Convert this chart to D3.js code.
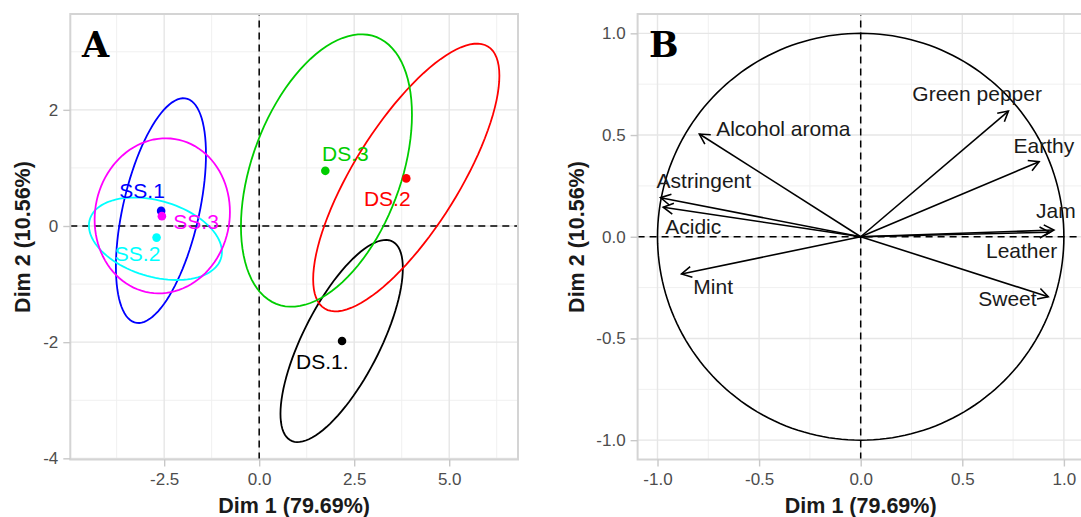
<!DOCTYPE html>
<html>
<head>
<meta charset="utf-8">
<script src="https://cdn.jsdelivr.net/npm/d3@7"></script>
<style>
  body { margin: 0; background: #fff; }
  svg { display: block; font-family: "Liberation Sans", Arial, sans-serif; }
</style>
</head>
<body>
<div id="main-div"></div>
<script>
// panel A: individuals (group means + confidence ellipses)
const groups = ["DS.1.", "DS.2", "DS.3", "SS.1", "SS.2", "SS.3"];
const groupColors = ["black", "red", "#00CD00", "blue", "cyan", "magenta"];
const meanDim1 = [2.18, 3.87, 1.74, -2.58, -2.70, -2.56];
const meanDim2 = [-1.98, 0.82, 0.95, 0.26, -0.20, 0.17];
const labelDim1 = [1.66, 3.37, 2.27, -3.08, -3.20, -1.66];
const labelDim2 = [-2.34, 0.48, 1.25, 0.62, -0.48, 0.07];
// ellipse: centre, half extent along dim1 / dim2, correlation
const ellCx = [2.17, 3.87, 1.77, -2.585, -2.73, -2.55];
const ellCy = [-1.98, 0.835, 0.955, 0.265, -0.22, 0.175];
const ellSx = [1.61, 2.45, 2.25, 1.185, 1.75, 1.78];
const ellSy = [1.74, 2.305, 2.345, 1.935, 0.71, 1.335];
const ellRho = [0.72, 0.76, 0.41, 0.5, -0.32, 0.05];

// panel B: variables (correlation circle)
const variables = ["Green pepper", "Alcohol aroma", "Earthy", "Astringent", "Jam", "Acidic", "Leather", "Mint", "Sweet"];
const varDim1 = [0.727, -0.794, 0.878, -0.985, 0.951, -0.972, 0.93, -0.882, 0.923];
const varDim2 = [0.618, 0.505, 0.369, 0.192, 0.033, 0.145, 0.022, -0.183, -0.295];
const varLabelDim1 = [0.573, -0.381, 0.902, -0.772, 0.961, -0.824, 0.792, -0.726, 0.722];
const varLabelDim2 = [0.705, 0.530, 0.451, 0.279, 0.129, 0.049, -0.065, -0.246, -0.303];

const ticksA_x = [-2.5, 0, 2.5, 5.0];
const ticksA_y = [-4, -2, 0, 2];
const minorA_x = [-3.75, -1.25, 1.25, 3.75, 6.25];
const minorA_y = [-3, -1, 1, 3];
const ticksB = [-1, -0.5, 0, 0.5, 1];
const minorB = [-0.75, -0.25, 0.25, 0.75];

const xTitle = "Dim 1 (79.69%)";
const yTitle = "Dim 2 (10.56%)";

let width = 1081, height = 517;

const svg = d3.select("#main-div").append("svg")
  .attr("width", width).attr("height", height);

svg.append("defs").append("marker")
  .attr("id", "arrow")
  .attr("markerUnits", "userSpaceOnUse")
  .attr("viewBox", "-12 -7 14 14")
  .attr("markerWidth", 14).attr("markerHeight", 14)
  .attr("orient", "auto")
  .append("path")
  .attr("d", "M-10,-5.5 L0,0 L-10,5.5")
  .attr("fill", "none").attr("stroke", "black").attr("stroke-width", 1.6);

// ascii hyphen like R output
const oneDec = d => d.toFixed(1);
const whole = d => String(d);

function panel(id, x, y, xt, yt, xminor, yminor, fx, fy) {
  const [x0, x1] = x.range(), [y0, y1] = y.range();
  const g = svg.append("g");
  g.append("clipPath").attr("id", id).append("rect")
    .attr("x", x0).attr("y", y1).attr("width", x1 - x0).attr("height", y0 - y1);
  const body = g.append("g").attr("clip-path", `url(#${id})`);
  // grid
  body.selectAll(".mx").data(xminor).join("line")
    .attr("x1", d => x(d)).attr("x2", d => x(d)).attr("y1", y0).attr("y2", y1)
    .attr("stroke", "#f0f0f0").attr("stroke-width", 1);
  body.selectAll(".my").data(yminor).join("line")
    .attr("y1", d => y(d)).attr("y2", d => y(d)).attr("x1", x0).attr("x2", x1)
    .attr("stroke", "#f0f0f0").attr("stroke-width", 1);
  body.selectAll(".Mx").data(xt).join("line")
    .attr("x1", d => x(d)).attr("x2", d => x(d)).attr("y1", y0).attr("y2", y1)
    .attr("stroke", "#e6e6e6").attr("stroke-width", 1.4);
  body.selectAll(".My").data(yt).join("line")
    .attr("y1", d => y(d)).attr("y2", d => y(d)).attr("x1", x0).attr("x2", x1)
    .attr("stroke", "#e6e6e6").attr("stroke-width", 1.4);
  // border
  g.append("rect").attr("x", x0).attr("y", y1).attr("width", x1 - x0).attr("height", y0 - y1)
    .attr("fill", "none").attr("stroke", "#d4d4d4").attr("stroke-width", 2);
  // axes
  const ax = g.append("g").attr("transform", `translate(0,${y0})`)
    .call(d3.axisBottom(x).tickValues(xt).tickFormat(fx).tickSize(7).tickPadding(6));
  const ay = g.append("g").attr("transform", `translate(${x0},0)`)
    .call(d3.axisLeft(y).tickValues(yt).tickFormat(fy).tickSize(7).tickPadding(5));
  [ax, ay].forEach(a => {
    a.select(".domain").remove();
    a.selectAll(".tick line").attr("stroke", "#c8c8c8").attr("stroke-width", 1.4);
    a.selectAll(".tick text").attr("fill", "#4d4d4d").attr("font-size", 17)
      .attr("font-family", "Liberation Sans, Arial, sans-serif");
  });
  // zero lines
  body.append("line").attr("x1", x(0)).attr("x2", x(0)).attr("y1", y0).attr("y2", y1)
    .attr("stroke", "black").attr("stroke-width", 1.5).attr("stroke-dasharray", "7,5");
  body.append("line").attr("y1", y(0)).attr("y2", y(0)).attr("x1", x0).attr("x2", x1)
    .attr("stroke", "black").attr("stroke-width", 1.5).attr("stroke-dasharray", "7,5");
  // x title
  g.append("text").attr("x", (x0 + Math.min(x1, width + 3)) / 2).attr("y", 513)
    .attr("text-anchor", "middle").attr("font-weight", "bold").attr("font-size", 21.5)
    .attr("fill", "#1a1a1a").text(xTitle);
  return body;
}

// ---------- panel A ----------
const xA = d3.scaleLinear().domain([-4.97, 6.81]).range([70.3, 518]);
const yA = d3.scaleLinear().domain([-4.02, 3.65]).range([459.5, 14]);
const bodyA = panel("clipA", xA, yA, ticksA_x, ticksA_y, minorA_x, minorA_y, oneDec, whole);

const ellipse = i => d3.range(0, 101).map(k => {
  const t = 2 * Math.PI * k / 100;
  const dx = ellSx[i] * Math.cos(t);
  const dy = ellSy[i] * (ellRho[i] * Math.cos(t) + Math.sqrt(1 - ellRho[i] ** 2) * Math.sin(t));
  return [xA(ellCx[i] + dx), yA(ellCy[i] + dy)];
});

bodyA.selectAll(".ell").data(groups).join("path")
  .attr("d", (d, i) => d3.line()(ellipse(i)))
  .attr("fill", "none").attr("stroke", (d, i) => groupColors[i]).attr("stroke-width", 1.8);

bodyA.selectAll(".pt").data(groups).join("circle")
  .attr("cx", (d, i) => xA(meanDim1[i])).attr("cy", (d, i) => yA(meanDim2[i]))
  .attr("r", 4.3).attr("fill", (d, i) => groupColors[i]);

bodyA.selectAll(".lab").data(groups).join("text")
  .attr("x", (d, i) => xA(labelDim1[i])).attr("y", (d, i) => yA(labelDim2[i]))
  .attr("dy", "0.36em").attr("text-anchor", "middle").attr("font-size", 21)
  .attr("fill", (d, i) => groupColors[i]).text(d => d);

bodyA.append("text").attr("x", 82).attr("y", 57)
  .attr("font-family", "DejaVu Serif, serif").attr("font-weight", "bold").attr("font-size", 35)
  .text("A");

svg.append("text").attr("transform", `translate(30,237) rotate(-90)`)
  .attr("text-anchor", "middle").attr("font-weight", "bold").attr("font-size", 21.5)
  .attr("fill", "#1a1a1a").text(yTitle);

// ---------- panel B ----------
const xB = d3.scaleLinear().domain([-1.098, 1.098]).range([637.6, 1083.8]);
const yB = d3.scaleLinear().domain([-1.095, 1.095]).range([459.5, 14]);
const bodyB = panel("clipB", xB, yB, ticksB, ticksB, minorB, minorB, oneDec, oneDec);

bodyB.append("path")
  .attr("d", d3.line()(d3.range(0, 201).map(k => {
    const t = 2 * Math.PI * k / 200;
    return [xB(Math.cos(t)), yB(Math.sin(t))];
  })))
  .attr("fill", "none").attr("stroke", "black").attr("stroke-width", 1.6);

bodyB.selectAll(".arr").data(variables).join("line")
  .attr("x1", xB(0)).attr("y1", yB(0))
  .attr("x2", (d, i) => xB(varDim1[i])).attr("y2", (d, i) => yB(varDim2[i]))
  .attr("stroke", "black").attr("stroke-width", 1.6).attr("marker-end", "url(#arrow)");

bodyB.selectAll(".vlab").data(variables).join("text")
  .attr("x", (d, i) => xB(varLabelDim1[i])).attr("y", (d, i) => yB(varLabelDim2[i]))
  .attr("dy", "0.36em").attr("text-anchor", "middle").attr("font-size", 21)
  .attr("fill", "#1a1a1a").text(d => d);

bodyB.append("text").attr("x", 649).attr("y", 57)
  .attr("font-family", "DejaVu Serif, serif").attr("font-weight", "bold").attr("font-size", 35)
  .text("B");

svg.append("text").attr("transform", `translate(584,237) rotate(-90)`)
  .attr("text-anchor", "middle").attr("font-weight", "bold").attr("font-size", 21.5)
  .attr("fill", "#1a1a1a").text(yTitle);
</script>
</body>
</html>
